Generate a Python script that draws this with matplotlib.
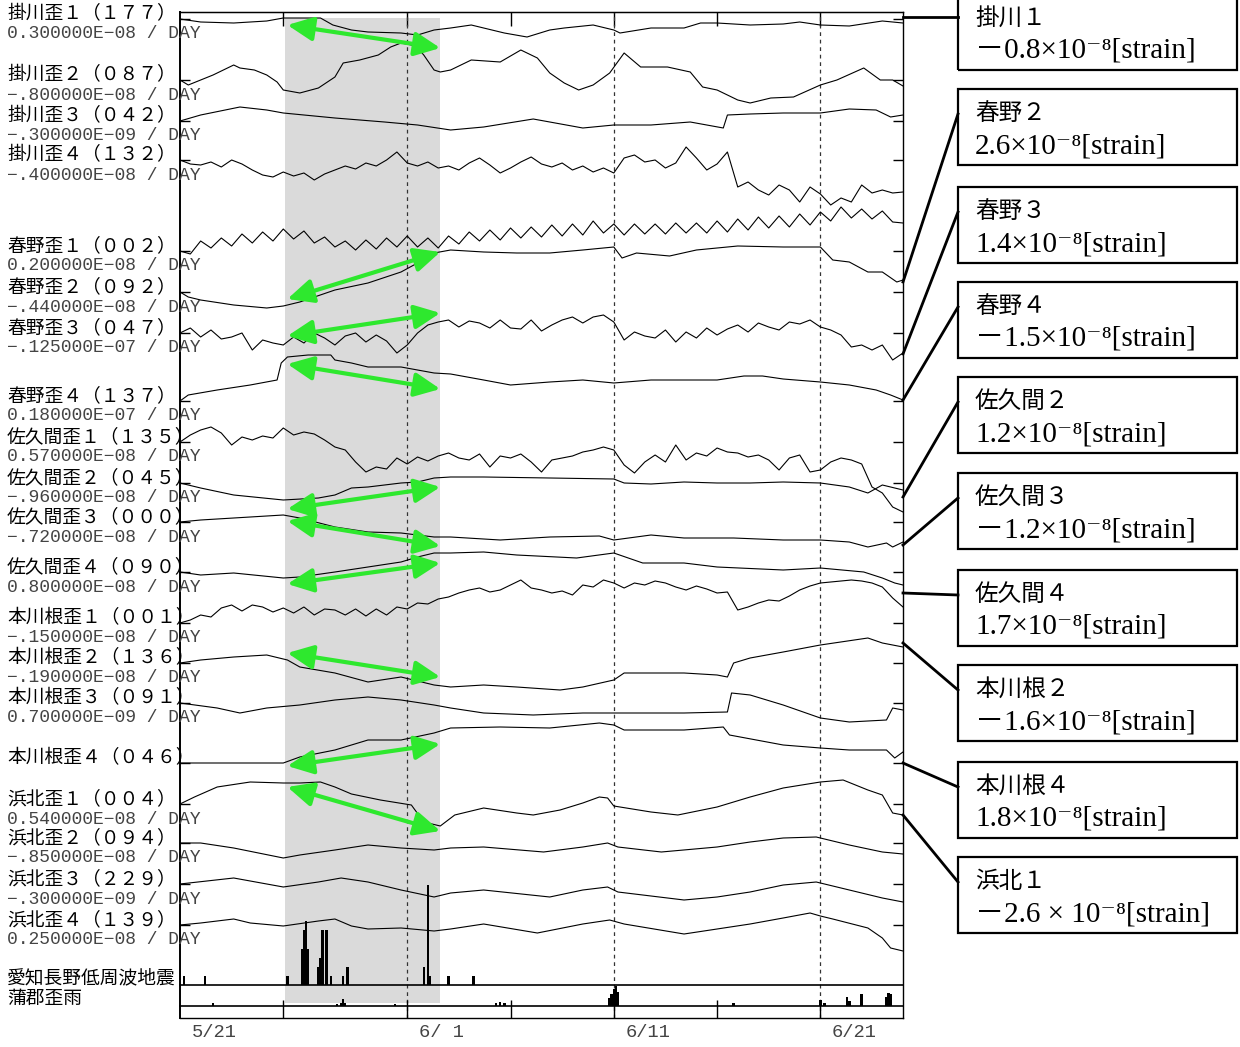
import numpy as np
import matplotlib.pyplot as plt
from matplotlib.patches import Rectangle
from matplotlib.lines import Line2D

# ---- time axis: days since 5/21 00:00 ----
tick_days = [5, 11, 16, 21, 26, 31]
dash_days = [11, 21, 31]
date_labels = ["5/21", "6/ 1", "6/11", "6/21"]
date_label_days = [0, 11, 21, 31]
shade_days = (5.1, 12.6)
half = np.arange(71) * 0.5   # half-day grid for the tidal traces

names = ["掛川歪１（１７７）", "掛川歪２（０８７）", "掛川歪３（０４２）", "掛川歪４（１３２）",
         "春野歪１（００２）", "春野歪２（０９２）", "春野歪３（０４７）", "春野歪４（１３７）",
         "佐久間歪１（１３５）", "佐久間歪２（０４５）", "佐久間歪３（０００）", "佐久間歪４（０９０）",
         "本川根歪１（００１）", "本川根歪２（１３６）", "本川根歪３（０９１）", "本川根歪４（０４６）",
         "浜北歪１（００４）", "浜北歪２（０９４）", "浜北歪３（２２９）", "浜北歪４（１３９）"]
scales = ["0.300000E−08 / DAY", "−.800000E−08 / DAY", "−.300000E−09 / DAY", "−.400000E−08 / DAY",
          "0.200000E−08 / DAY", "−.440000E−08 / DAY", "−.125000E−07 / DAY", "0.180000E−07 / DAY",
          "0.570000E−08 / DAY", "−.960000E−08 / DAY", "−.720000E−08 / DAY", "0.800000E−08 / DAY",
          "−.150000E−08 / DAY", "−.190000E−08 / DAY", "0.700000E−09 / DAY", "",
          "0.540000E−08 / DAY", "−.850000E−08 / DAY", "−.300000E−09 / DAY", "0.250000E−08 / DAY"]

# ---- traces (days, displacement up) ----
kake1_t = [0, 1.0, 2.6, 4.2, 5.0, 5.8, 6.8, 7.4, 8.3, 9.1, 10.7, 11.5, 12.3, 13.1, 14.1, 14.7, 15.7,
           16.8, 17.9, 18.6, 20.0, 21.0, 21.3, 22.8, 24.4, 25.2, 26.0, 27.6, 29.2, 30.0, 31.0, 32.4, 34.0, 35.0]
kake1_v = [0, -3, -4, -2, 1, 1, 1, -6, -11, -13, -14, -16, -11, -9, -6, -9, -14,
           -18, -11, -9, -6, -11, -14, -9, -9, -4, -4, -6, -5, -3, -6, -7, -2, -4]
kake2_t = [0, 0.4, 1.0, 1.6, 2.6, 2.9, 3.6, 4.2, 4.7, 5.0, 5.8, 6.7, 7.5, 7.9, 8.7, 9.6, 10.2, 10.7, 11.2,
           11.5, 11.8, 12.3, 12.6, 13.1, 14.1, 15.5, 16.5, 17.3, 17.9, 18.6, 19.3, 20.0, 20.8, 21.5, 22.3,
           23.6, 24.7, 25.3, 26.0, 27.0, 27.6, 28.6, 29.7, 31.0, 31.8, 33.1, 33.9, 34.5, 35.0]
kake2_v = [0, -5, 0, 5, 15, 12, 10, 5, -2, -10, -13, -8, 3, 17, 20, 25, 33, 37, 35,
           32, 25, 10, 8, 10, 20, 18, 30, 22, 7, -3, -10, -5, 7, 27, 13,
           13, 8, -7, -10, -20, -23, -18, -17, -5, 0, 12, 0, 0, -6]
kake3_t = [0, 1.0, 2.9, 4.2, 5.0, 7.5, 9.9, 11.5, 13.1, 14.7, 17.1, 19.5, 21.0, 22.8, 24.7, 26.3,
           26.5, 27.6, 29.2, 31.0, 32.4, 33.7, 34.4, 35.0]
kake3_v = [0, 6, 14, 11, 8, 3, -1, -4, -9, -6, 2, -7, -4, -4, -1, -7, 6, 7, 8, 8, 12, 11, 4, 6]
kake4_v = [0, -4, -5, -2, -7, 0, -4, -10, -15, -17, -12, -16, -13, -20, -14, -10, -6, -9, -3, -6,
           0, 8, -3, -6, -2, -8, -6, -10, -3, 2, -5, -13, -8, -2, 3, -4, -7, -3, -10, -6,
           -12, -8, -13, 2, 5, -2, 0, -8, -3, 13, 2, -10, -4, 8, -27, -22, -30, -35, -25, -30,
           -42, -27, -34, -45, -38, -42, -25, -33, -30, -33, -32]
haru1_v = [0, -3, 10, 3, 13, 5, 17, 8, 19, 10, 22, 12, 20, 8, 14, 4, 10, 1, 11, 2,
           13, 4, 15, 4, 13, 3, 15, 7, 19, 10, 21, 11, 23, 13, 24, 14, 26, 15, 27, 16,
           30, 18, 27, 16, 27, 17, 27, 17, 28, 18, 28, 18, 30, 19, 32, 21, 34, 23, 35, 24,
           37, 26, 39, 30, 44, 33, 42, 32, 40, 29, 28]
haru2_t = [0, 0.4, 1.0, 2.6, 4.2, 5.0, 5.8, 7.5, 9.1, 10.7, 11.5, 12.3, 13.1, 14.7, 16.3, 17.9,
           19.5, 21.0, 21.4, 22.1, 23.7, 25.0, 27.0, 29.2, 31.0, 31.6, 32.4, 33.3, 34.0, 34.7, 35.0]
haru2_v = [0, -5, -8, -13, -16, -14, -10, 2, 9, 20, 29, 39, 42, 40, 39, 39,
           42, 45, 34, 39, 36, 42, 46, 45, 45, 32, 30, 20, 20, 10, 12]
haru3_v = [0, 5, -4, 3, -6, -4, 0, -17, -7, -10, -12, -4, -10, 0, -5, -12, -3, 0, -9, -2,
           -8, -20, -12, 0, 8, 11, 13, 6, 12, 10, 5, 13, 5, 4, 13, 2, 8, 13, 16, 10,
           16, 18, 11, -7, 1, -3, -5, 3, -9, 1, -5, 5, -2, 4, 8, 1, 10, 6, 3, 11,
           9, 13, 6, 3, -2, -14, -12, -17, -12, -27, -20]
haru4_t = [0, 0.4, 1.8, 3.4, 4.7, 4.9, 5.2, 6.2, 7.3, 7.5, 8.3, 9.1, 10.7, 11.5, 12.3, 13.1, 14.7,
           16.0, 17.9, 19.5, 21.0, 22.8, 26.0, 27.3, 28.2, 29.2, 31.0, 32.4, 33.7, 34.4, 35.0]
haru4_v = [0, 6, 11, 16, 21, 38, 44, 46, 46, 41, 38, 34, 34, 31, 28, 27, 21,
           16, 19, 21, 18, 21, 21, 25, 25, 22, 19, 16, 11, 6, 1]
saku1_v = [0, 7, 12, 15, 9, -3, 5, 2, 6, 4, 14, 7, 10, 8, 2, -5, -8, -20, -30, -25,
           -27, -16, -22, -15, -19, -14, -11, -16, -18, -12, -25, -14, -16, -12, -20, -30, -18, -16, -14, -10,
           -8, -5, -8, -23, -31, -20, -13, -20, -3, -18, -11, -14, -6, -10, -11, -15, -13, -18, -28, -16,
           -13, -30, -28, -20, -16, -18, -22, -45, -51, -65, -70]
saku2_t = [0, 1.0, 2.6, 5.0, 6.7, 7.5, 8.3, 9.1, 10.7, 11.5, 12.3, 13.1, 14.7, 17.9, 21.0, 21.5,
           22.8, 24.4, 26.0, 27.6, 29.2, 31.0, 32.4, 33.3, 34.0, 35.0]
saku2_v = [0, -5, -12, -17, -15, -12, -5, -4, 0, 1, 5, 6, 6, 5, 4, 0, -1, 1, 0, 0, 1, 0, -4, -10, -2, -7]
saku3_t = [0, 1.0, 2.6, 5.0, 5.8, 7.5, 9.1, 10.7, 12.3, 13.1, 15.5, 17.9, 20.3, 21.0, 22.8, 24.4,
           26.8, 29.2, 31.0, 32.4, 33.3, 34.2, 34.5, 35.0]
saku3_v = [0, 2, 4, 7, 4, -5, -10, -11, -15, -15, -18, -15, -14, -18, -13, -16,
           -16, -18, -18, -20, -25, -21, -25, -20]
saku4_t = [0, 1.0, 2.6, 5.0, 5.8, 7.5, 9.1, 10.7, 11.5, 12.3, 13.1, 14.7, 16.3, 19.2, 21.0, 22.4,
           24.4, 26.0, 29.2, 31.0, 33.1, 34.0, 34.6, 35.0]
saku4_v = [0, -3, -1, -6, -5, 0, 5, 10, 15, 19, 19, 20, 17, 14, 19, 9, 9, 5, 2, 4, 0, -6, -11, -13]
hon1_v = [0, 3, 8, 6, 15, 18, 12, 18, 16, 11, 15, 10, 16, 8, 14, 13, 8, 14, 7, 14,
          8, 16, 14, 20, 19, 24, 26, 30, 33, 35, 31, 33, 38, 43, 35, 33, 30, 32, 28, 38,
          36, 43, 40, 35, 40, 38, 42, 40, 36, 33, 37, 34, 30, 31, 13, 16, 20, 23, 22, 27,
          33, 37, 40, 41, 42, 43, 42, 40, 36, 25, 16]
hon2_t = [0, 1.0, 2.6, 4.2, 5.2, 5.8, 7.5, 9.1, 10.7, 12.3, 13.1, 14.7, 16.3, 18.4, 19.5, 21.0,
          21.5, 22.8, 24.4, 26.0, 26.5, 26.8, 27.6, 29.2, 31.0, 33.3, 34.0, 35.0]
hon2_v = [0, 3, 6, 8, 3, -4, -10, -19, -14, -22, -24, -22, -24, -27, -24, -17,
          -10, -10, -10, -12, -14, 0, 5, 11, 18, 25, 20, 16]
hon3_t = [0, 1.8, 2.9, 4.2, 5.8, 7.5, 9.1, 10.7, 12.3, 13.1, 14.7, 17.1, 19.5, 21.0, 24.4, 26.5,
          26.7, 27.6, 29.2, 31.0, 32.4, 34.2, 34.5, 35.0]
hon3_v = [0, -5, -10, -5, -2, 3, 6, 3, -2, -5, -10, -12, -10, -10, -10, -9, 10, 8, -2, -15, -19, -17, -5, -7]
hon4_t = [0, 2.6, 5.0, 5.8, 7.5, 9.1, 10.7, 12.3, 13.1, 15.5, 17.9, 20.3, 21.0, 21.5, 24.4, 26.3,
          26.6, 29.2, 31.0, 32.4, 34.2, 34.6, 35.0]
hon4_v = [0, 0, 0, 6, 13, 23, 23, 30, 35, 36, 35, 40, 38, 33, 33, 36, 28, 18, 15, 13, 13, 5, 11]
hama1_t = [0, 0.7, 1.8, 3.4, 5.0, 5.8, 6.8, 7.5, 8.3, 9.7, 11.2, 11.8, 12.6, 13.3, 14.7, 16.3, 17.1,
           18.4, 19.5, 20.3, 20.7, 21.0, 22.8, 24.1, 26.0, 27.6, 29.2, 31.0, 32.1, 33.3, 34.0, 34.5, 35.0]
hama1_v = [0, 7, 17, 22, 21, 21, 22, 17, 10, 4, -1, -18, -22, -11, -4, -9, -11,
           -6, 1, 7, 6, -2, -8, -11, -3, 7, 16, 22, 24, 14, 9, -9, -11]
hama2_t = [0, 1.0, 2.6, 5.0, 5.8, 7.5, 9.1, 10.7, 12.3, 13.1, 14.7, 17.6, 19.5, 20.7, 21.2, 23.3,
           26.0, 27.6, 29.2, 30.8, 32.4, 34.0, 35.0]
hama2_v = [0, 0, -5, -15, -12, -7, -2, -5, -7, -5, -4, -9, -4, 0, -4, -9, -4, 1, 5, 6, -2, -9, -11]
hama3_t = [0, 2.6, 5.0, 6.7, 7.8, 9.1, 10.7, 12.3, 13.1, 14.7, 17.9, 19.5, 20.7, 21.2, 24.4, 26.0,
           27.6, 29.2, 30.8, 32.4, 34.0, 35.0]
hama3_v = [0, 6, -3, 2, 6, 2, -6, -13, -9, -6, -13, -6, -3, -8, -16, -13, -8, -1, 2, -6, -14, -18]
hama4_t = [0, 1.0, 2.6, 3.4, 5.0, 6.7, 7.5, 8.3, 9.1, 10.7, 12.3, 13.1, 14.7, 17.3, 19.5, 20.8,
           21.5, 24.4, 26.0, 27.6, 29.2, 30.5, 31.0, 31.6, 33.3, 34.0, 34.4, 35.0]
hama4_v = [0, 2, 6, 2, -1, 4, 6, -1, -4, -3, -6, -4, 1, -8, 1, 5, 1, -9, -4, 1, 7, 12, 9, 6, -3, -13, -23, -26]

# low-frequency earthquakes (count) and rain
eq_days = [0.2, 1.2, 5.2, 5.9, 6.0, 6.1, 6.2, 6.7, 6.8, 6.9, 7.1, 7.3, 7.9, 8.1, 11.8, 12.0, 12.1, 13.0, 14.2]
eq_counts = [1, 1, 1, 4, 6, 7, 4, 2, 3, 6, 6, 1, 1, 2, 2, 11, 1, 1, 1]
rain_days = [1.6, 7.6, 7.8, 7.9, 8.0, 10.4, 15.3, 15.5, 15.7, 20.8, 20.9, 21.0, 21.1, 21.2, 26.8,
             31.0, 31.2, 32.3, 32.4, 33.0, 34.2, 34.3, 34.4]
rain_mm = [3, 2, 3, 7, 3, 2, 3, 4, 3, 8, 12, 17, 20, 14, 3, 6, 3, 9, 5, 12, 9, 13, 12]

# change annotations (strain change between 5/26 and 6/2)
box_titles = ["掛川１", "春野２", "春野３", "春野４", "佐久間２", "佐久間３", "佐久間４", "本川根２", "本川根４", "浜北１"]
box_values = ["－0.8×10⁻⁸[strain]", "2.6×10⁻⁸[strain]", "1.4×10⁻⁸[strain]", "－1.5×10⁻⁸[strain]",
              "1.2×10⁻⁸[strain]", "－1.2×10⁻⁸[strain]", "1.7×10⁻⁸[strain]", "－1.6×10⁻⁸[strain]",
              "1.8×10⁻⁸[strain]", "－2.6 × 10⁻⁸[strain]"]
arrow_days = (5.2, 12.6)

# ---- layout (pixel rows from the top of the image) ----
W, H = 1240, 1047
baselines = [19, 80, 121, 160, 251, 292, 333, 401, 442, 483, 522, 572, 623, 663, 703, 763, 804, 843, 884, 925]
arrow_rows = [(25, 48), (299, 252), (336, 313), (364, 389), (509, 487), (521, 546),
              (584, 563), (653, 677), (766, 744), (787, 831)]
box_tops = [-6, 89, 187, 282, 377, 473, 570, 665, 762, 857]
connector_rows = [17, 282, 354, 400, 497, 545, 593, 643, 763, 815]
GREEN = "#2ee82e"
CJK = ["Noto Sans CJK JP", "DejaVu Sans"]


def fx(x):
    return x / W


def fy(y):
    return 1 - y / H


traces = [
    (kake1_t, kake1_v), (kake2_t, kake2_v), (kake3_t, kake3_v), (half, kake4_v),
    (half, haru1_v), (haru2_t, haru2_v), (half, haru3_v), (haru4_t, haru4_v),
    (half, saku1_v), (saku2_t, saku2_v), (saku3_t, saku3_v), (saku4_t, saku4_v),
    (half, hon1_v), (hon2_t, hon2_v), (hon3_t, hon3_v), (hon4_t, hon4_v),
    (hama1_t, hama1_v), (hama2_t, hama2_v), (hama3_t, hama3_v), (hama4_t, hama4_v),
]

fig = plt.figure(figsize=(W / 100, H / 100), dpi=100)

X0, X1, TOP, BOT = 180, 903, 12, 1018
ax = fig.add_axes([fx(X0), fy(BOT), (X1 - X0) / W, (BOT - TOP) / H])
ax.set_xlim(0, 35)
ax.set_ylim(BOT, TOP)

ax.axvspan(*shade_days, ymin=(BOT - 1003) / (BOT - TOP), ymax=(BOT - 18) / (BOT - TOP),
           facecolor="#dadada", edgecolor="none", zorder=0)
for d in dash_days:
    ax.axvline(d, color="#333333", lw=0.9, ls=(0, (3, 3)), zorder=1)

for (t, v), b in zip(traces, baselines):
    ax.plot(t, b - np.asarray(v), color="black", lw=0.8, zorder=2)

for (r0, r1) in arrow_rows:
    ax.annotate("", xy=(arrow_days[1], r1), xytext=(arrow_days[0], r0),
                arrowprops=dict(arrowstyle="<|-|>,head_length=0.6,head_width=0.28",
                                color=GREEN, lw=3, shrinkA=0, shrinkB=0, mutation_scale=26),
                zorder=4)

ax.set_xticks(tick_days)
ax.tick_params(axis="x", direction="in", length=13, width=1, labelbottom=False)
top = ax.secondary_xaxis("top")
top.set_xticks(tick_days)
top.tick_params(direction="in", length=10, width=1, labeltop=False)
ax.set_yticks(baselines)
ax.tick_params(axis="y", left=True, right=True, direction="in", length=7, width=1,
               labelleft=False, labelright=False)
for s in ax.spines.values():
    s.set_linewidth(1.0)
ax.spines["left"].set_linewidth(1.4)

for d, lab in zip(date_label_days, date_labels):
    ax.text(d + 0.55, 1033, lab, ha="left", va="center", fontsize=13.5,
            family="Liberation Mono", color="#444444", clip_on=False)

# earthquake panel
ax_eq = fig.add_axes([fx(X0), fy(985), (X1 - X0) / W, 100 / H], facecolor="none")
ax_eq.bar(eq_days, eq_counts, width=0.12, color="black", zorder=3)
ax_eq.set_xlim(0, 35)
ax_eq.set_ylim(0, 11)
ax_eq.set_xticks([])
ax_eq.set_yticks([])
for k in ["top", "left", "right"]:
    ax_eq.spines[k].set_visible(False)
ax_eq.spines["bottom"].set_linewidth(1.2)

# rain panel
ax_rain = fig.add_axes([fx(X0), fy(1006), (X1 - X0) / W, 21 / H], facecolor="none")
ax_rain.bar(rain_days, rain_mm, width=0.12, color="black")
ax_rain.set_xlim(0, 35)
ax_rain.set_ylim(0, 21)
ax_rain.set_xticks([])
ax_rain.set_yticks([])
for k in ["top", "left", "right"]:
    ax_rain.spines[k].set_visible(False)
ax_rain.spines["bottom"].set_linewidth(1.2)

# left labels
for name, sc, b in zip(names, scales, baselines):
    fig.text(fx(7), fy(b - 5), name, ha="left", va="center", fontsize=13.5, family=CJK)
    if sc:
        fig.text(fx(7), fy(b + 15), sc, ha="left", va="center", fontsize=13,
                 family=["Liberation Mono", "DejaVu Sans"], color="#444444")
fig.text(fx(7), fy(978), "愛知長野低周波地震", ha="left", va="center", fontsize=13.5, family=CJK)
fig.text(fx(7), fy(998), "蒲郡歪雨", ha="left", va="center", fontsize=13.5, family=CJK)

# right boxes and connectors
BX0, BX1, BH = 958, 1237, 76
for title, val, bt, cr in zip(box_titles, box_values, box_tops, connector_rows):
    fig.patches.append(Rectangle((fx(BX0), fy(bt + BH)), (BX1 - BX0) / W, BH / H,
                                 transform=fig.transFigure, fill=False, lw=1.6, ec="black"))
    fig.text(fx(975), fy(bt + 24), title, ha="left", va="center", fontsize=17, family=CJK)
    fig.text(fx(975), fy(bt + 57), val, ha="left", va="center", fontsize=21,
             family=["Liberation Serif", "DejaVu Serif", "Noto Sans CJK JP"])
    fig.lines.append(Line2D([fx(X1), fx(BX0)], [fy(cr), fy(bt + 25 if bt > 0 else 17)],
                            transform=fig.transFigure, color="black", lw=2))

fig.savefig("out.png", dpi=100)
